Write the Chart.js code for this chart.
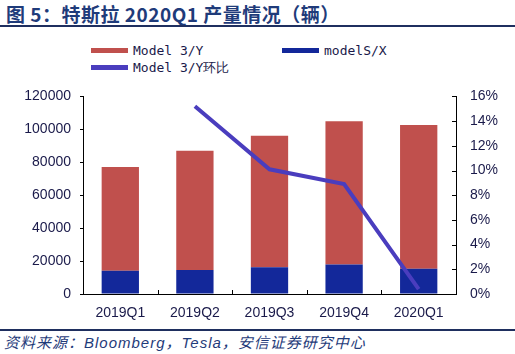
<!DOCTYPE html>
<html>
<head>
<meta charset="utf-8">
<script src="https://cdn.jsdelivr.net/npm/chart.js@4"></script>
<style>
    body { margin: 0; width: 515px; height: 354px; background: #fff; position: relative; overflow: hidden; font-family: "Liberation Sans", Arial, sans-serif; }
    .title { position: absolute; left: 6px; top: 0px; font: bold 19px "Noto Sans CJK SC", sans-serif; color: #1f3b7a; white-space: nowrap; letter-spacing: 0.5px; }
    .rule { position: absolute; left: 0; width: 515px; height: 1.5px; background: #1f2f5f; }
    .legend { position: absolute; font: 13px "DejaVu Sans Mono", monospace; color: #1a1a4a; white-space: nowrap; }
    .legend span.sw { display: inline-block; width: 37px; height: 5px; vertical-align: middle; margin-right: 5px; position: relative; top: -1px; }
    .source { position: absolute; left: 4px; top: 331px; font: italic 15px "Liberation Sans", "Noto Sans CJK SC", sans-serif; color: #1f3b7a; white-space: nowrap; letter-spacing: 1px; }
    #wrap { position: absolute; left: 0; top: 74px; width: 515px; height: 250px; }
</style>
</head>
<body>
<div class="title">图 5：特斯拉 2020Q1 产量情况（辆）</div>
<div class="rule" style="top:25px"></div>
<div class="legend" style="left:91px; top:43px"><span class="sw" style="background:#c0504d"></span>Model 3/Y</div>
<div class="legend" style="left:282px; top:43px"><span class="sw" style="background:#13289a"></span>modelS/X</div>
<div class="legend" style="left:91px; top:59px"><span class="sw" style="background:#4a3dbe"></span>Model 3/Y环比</div>
<div id="wrap"><canvas id="chart" width="515" height="250"></canvas></div>
<div class="rule" style="top:329px"></div>
<div class="source">资料来源：Bloomberg，Tesla，安信证券研究中心</div>

<script>
const quarters = ['2019Q1', '2019Q2', '2019Q3', '2019Q4', '2020Q1'];
const model3y = [62975, 72531, 79837, 86958, 87282];
const modelSX = [14163, 14517, 16318, 17933, 15390];
const model3yQoQ = [null, 15.2, 10.1, 8.9, 0.4];

const tickFont = { family: 'Liberation Sans', size: 14 };

const inwardTicks = {
    id: 'inwardTicks',
    afterDraw(chart) {
        const ctx = chart.ctx;
        const area = chart.chartArea;
        const y1 = chart.scales.y1;
        ctx.save();
        ctx.strokeStyle = '#000';
        ctx.lineWidth = 1;
        ctx.beginPath();
        y1.ticks.forEach(t => {
            const y = Math.round(y1.getPixelForValue(t.value)) + 0.5;
            ctx.moveTo(area.right, y);
            ctx.lineTo(area.right - 4, y);
        });
        const step = (area.right - area.left) / quarters.length;
        for (let i = 1; i < quarters.length; i++) {
            const x = Math.round(area.left + i * step) + 0.5;
            ctx.moveTo(x, area.bottom);
            ctx.lineTo(x, area.bottom - 4);
        }
        ctx.stroke();
        ctx.restore();
    }
};

new Chart(document.getElementById('chart'), {
    data: {
        labels: quarters,
        datasets: [
            {
                type: 'line',
                label: 'Model 3/Y环比',
                data: model3yQoQ,
                yAxisID: 'y1',
                borderColor: '#4a3dbe',
                borderWidth: 4,
                pointRadius: 0,
                tension: 0,
                order: 0
            },
            {
                type: 'bar',
                label: 'modelS/X',
                data: modelSX,
                yAxisID: 'y',
                backgroundColor: '#13289a',
                barPercentage: 0.5,
                categoryPercentage: 1,
                order: 1
            },
            {
                type: 'bar',
                label: 'Model 3/Y',
                data: model3y,
                yAxisID: 'y',
                backgroundColor: '#c0504d',
                barPercentage: 0.5,
                categoryPercentage: 1,
                order: 1
            }
        ]
    },
    options: {
        responsive: false,
        animation: false,
        layout: { padding: { top: 8, right: 0, left: 0, bottom: 0 } },
        plugins: {
            legend: { display: false },
            tooltip: { enabled: false }
        },
        scales: {
            x: {
                stacked: true,
                grid: { display: false, drawTicks: false },
                border: { display: true, color: '#000', width: 1 },
                ticks: { color: '#1a1a4a', font: tickFont, padding: 11, maxRotation: 0 },
                afterFit: s => { s.height = 30; }
            },
            y: {
                stacked: true,
                position: 'left',
                min: 0,
                max: 120000,
                grid: { drawOnChartArea: false, drawTicks: true, tickLength: 3, color: '#000' },
                border: { display: true, color: '#000', width: 1 },
                ticks: { stepSize: 20000, color: '#1a1a4a', font: tickFont, padding: 9, callback: v => String(v) },
                afterFit: s => { s.width = 83; }
            },
            y1: {
                stacked: false,
                position: 'right',
                min: 0,
                max: 16,
                grid: { display: false, drawTicks: false },
                border: { display: true, color: '#000', width: 1 },
                ticks: { stepSize: 2, color: '#1a1a4a', font: tickFont, padding: 14, callback: v => v + '%' },
                afterFit: s => { s.width = 59; }
            }
        }
    },
    plugins: [inwardTicks]
});
</script>
</body>
</html>
